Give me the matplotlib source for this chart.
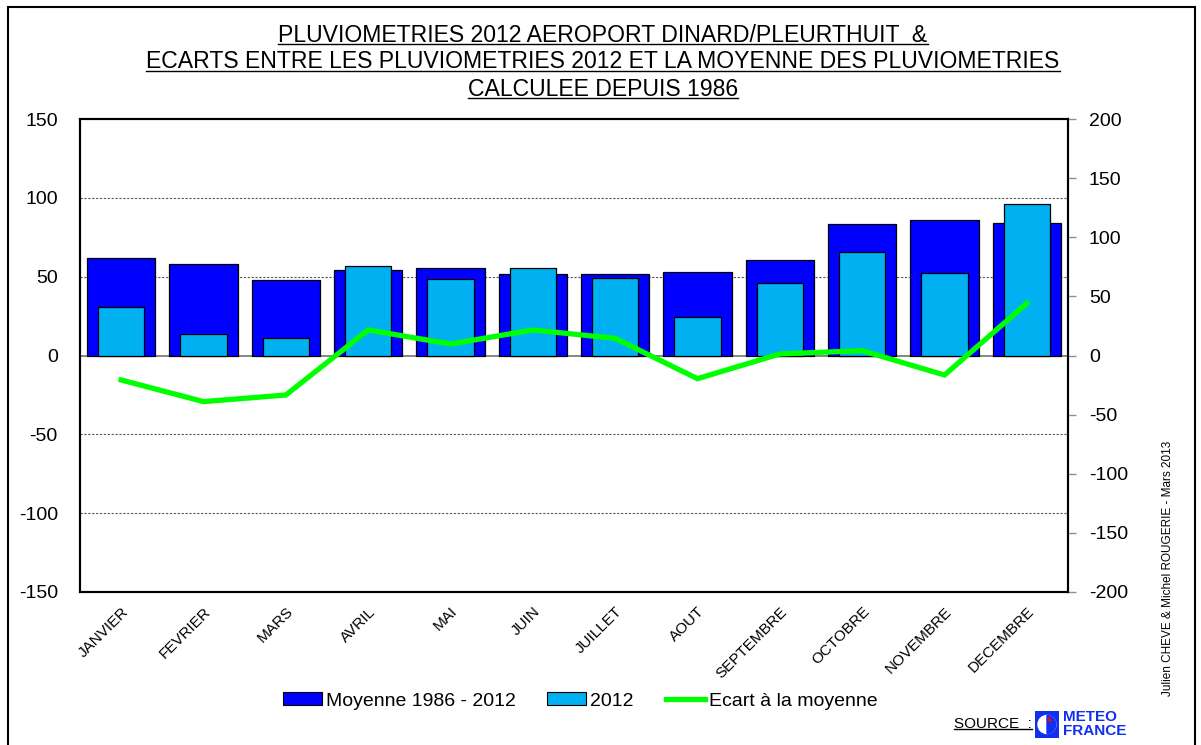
import numpy as np
import matplotlib
matplotlib.use("Agg")
import matplotlib.pyplot as plt
from matplotlib.patches import Rectangle, Circle, Wedge, Polygon, Patch
from matplotlib.lines import Line2D

plt.rcParams["font.family"] = ["Liberation Sans", "DejaVu Sans"]
plt.rcParams["axes.unicode_minus"] = False

months = ["JANVIER", "FEVRIER", "MARS", "AVRIL", "MAI", "JUIN", "JUILLET",
          "AOUT", "SEPTEMBRE", "OCTOBRE", "NOVEMBRE", "DECEMBRE"]
moyenne = [61.6, 57.8, 47.7, 54.0, 55.3, 51.9, 51.4, 52.9, 60.5, 83.1, 85.9, 84.2]
pluie_2012 = [30.9, 13.8, 11.1, 56.6, 48.7, 55.3, 49.1, 24.6, 46.1, 65.4, 52.3, 95.9]
ecart = [-20.7, -39.0, -33.4, 21.6, 9.7, 21.6, 14.5, -19.6, 1.3, 4.1, -16.5, 44.1]

W, H = 1201, 745
fig = plt.figure(figsize=(W / 100, H / 100), dpi=100)
ax = fig.add_axes([80 / W, 1 - 592 / H, (1068 - 80) / W, (592 - 119) / H])
ax2 = ax.twinx()

x = np.arange(len(months))
ax.bar(x, moyenne, width=0.83, color="#0000FF", edgecolor="black", linewidth=0.9, zorder=2)
ax.bar(x, pluie_2012, width=0.56, color="#00B0F0", edgecolor="black", linewidth=0.9, zorder=3)
ax.axhline(0, color="#707070", linewidth=1.2, zorder=1)
for v in [-100, -50, 50, 100]:
    ax.axhline(v, color="#555555", linewidth=0.8, linestyle=(0, (2, 1.5)), zorder=1)

ax2.plot(x, ecart, color="#00FF00", linewidth=3.8, solid_joinstyle="miter")

ax.set_xlim(-0.5, len(months) - 0.5)
ax.set_ylim(-150, 150)
ax2.set_ylim(-200, 200)
ax.set_yticks(np.arange(-150, 151, 50))
ax2.set_yticks(np.arange(-200, 201, 50))

ax.set_xticks(x)
ax.set_xticklabels(months, rotation=45, ha="right", rotation_mode="anchor", fontsize=11)
ax.tick_params(axis="x", length=0, pad=9)
ax.tick_params(axis="y", length=0, pad=16, labelsize=14)
ax2.tick_params(axis="y", length=6, width=1, color="#909090", pad=9, labelsize=14)
for a in (ax, ax2):
    for s in a.spines.values():
        s.set_linewidth(1.5)

# title, underlined
title_lines = ["PLUVIOMETRIES 2012 AEROPORT DINARD/PLEURTHUIT  &",
               "ECARTS ENTRE LES PLUVIOMETRIES 2012 ET LA MOYENNE DES PLUVIOMETRIES",
               "CALCULEE DEPUIS 1986"]
title_y = [35, 62, 89]
underlined = []
for t, yy in zip(title_lines, title_y):
    underlined.append(fig.text(603 / W, 1 - yy / H, t, ha="center", va="center",
                               fontsize=16.6))

# legend
handles = [Patch(facecolor="#0000FF", edgecolor="black", linewidth=0.8),
           Patch(facecolor="#00B0F0", edgecolor="black", linewidth=0.8),
           Line2D([], [], color="#00FF00", linewidth=3.8)]
fig.legend(handles, ["Moyenne 1986 - 2012", "2012", "Ecart à la moyenne"],
           loc="center", bbox_to_anchor=(580 / W, 1 - 701 / H), ncol=3, frameon=False,
           fontsize=14, handlelength=2.0, handleheight=0.6, handletextpad=0.2,
           columnspacing=1.65)

# credits
fig.text(1168 / W, 1 - 568 / H, "Julien CHEVE & Michel ROUGERIE - Mars 2013",
         rotation=90, ha="center", va="center", fontsize=8.5)

src = fig.text(1032 / W, 1 - 724 / H, "SOURCE  :", ha="right", va="center", fontsize=11)
underlined.append(src)

# Meteo France logo
logo = fig.add_axes([1035 / W, 1 - 738 / H, 24 / W, 27 / H])
logo.set_xlim(0, 24)
logo.set_ylim(0, 27)
logo.axis("off")
logo.add_patch(Rectangle((0, 0), 24, 27, color="#1030F0"))
logo.add_patch(Circle((12, 13.5), 9, color="white"))
logo.add_patch(Wedge((12, 13.5), 9, -90, 90, color="#1030F0"))
logo.add_patch(Polygon([[13, 17], [16, 17], [14.5, 21]], color="red"))
fig.text(1063 / W, 1 - 717 / H, "METEO", color="#1030F0", fontsize=11,
         weight="bold", va="center", ha="left")
fig.text(1063 / W, 1 - 731 / H, "FRANCE", color="#1030F0", fontsize=11,
         weight="bold", va="center", ha="left")

# outer frame
fig.add_artist(Rectangle((8 / W, -0.01), (1195 - 8) / W, 1 - 7 / H + 0.01,
                         transform=fig.transFigure, fill=False, edgecolor="black",
                         linewidth=1.5))

fig.canvas.draw()
r = fig.canvas.get_renderer()
for t in underlined:
    bb = t.get_window_extent(r)
    yb = bb.y0 + 0.11 * bb.height
    fig.add_artist(Line2D([bb.x0 / W, bb.x1 / W], [yb / H, yb / H],
                          transform=fig.transFigure, color="black", linewidth=1))

fig.savefig("out.png", dpi=100)
